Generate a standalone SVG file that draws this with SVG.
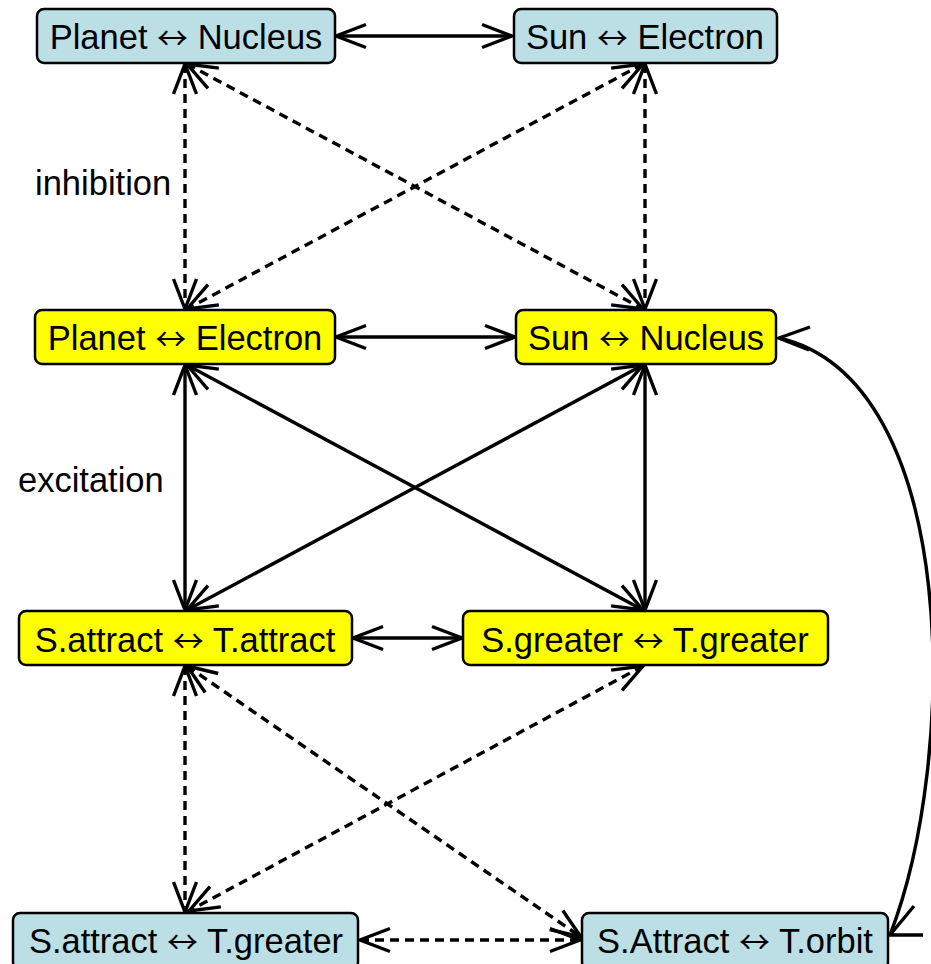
<svg xmlns="http://www.w3.org/2000/svg" width="931" height="964" viewBox="0 0 931 964">
  <style>
    .node rect { stroke: #000; stroke-width: 2.5; }
    .blue rect { fill: #bcdfe6; }
    .yellow rect { fill: #ffff00; }
    text { font-family: "Liberation Sans", Arial, sans-serif; font-size: 34.5px; fill: #000; }
    .node text { text-anchor: middle; }
    .sym { font-family: "Noto Sans CJK SC", "DejaVu Sans", sans-serif; font-size: 31px; }
    .edge { fill: none; stroke: #000; stroke-width: 3.4; marker-start: url(#arrow); marker-end: url(#arrow); }
    .dashed { stroke-dasharray: 9 6; }
    .head { fill: none; stroke: #000; stroke-width: 3.4; stroke-linejoin: miter; }
  </style>
  <defs>
    <!-- open V arrowhead, tip at the path end -->
    <marker id="arrow" markerUnits="userSpaceOnUse" viewBox="-34 -15 38 30" markerWidth="38" markerHeight="30" refX="0" refY="0" orient="auto-start-reverse" overflow="visible">
      <path d="M -30 -11.5 L 0 0 L -30 11.5" fill="none" stroke="#000" stroke-width="3.4" stroke-dasharray="none"/>
    </marker>
  </defs>

  <g id="connectors">
    <!-- top row -->
    <line class="edge" x1="336" y1="36" x2="512" y2="36"/>
    <line class="edge dashed" x1="185" y1="64" x2="185" y2="309"/>
    <line class="edge dashed" x1="645" y1="64" x2="645" y2="309"/>
    <line class="edge dashed" x1="187" y1="64" x2="643" y2="309"/>
    <line class="edge dashed" x1="643" y1="64" x2="187" y2="309"/>
    <!-- second row -->
    <line class="edge" x1="336" y1="337" x2="515" y2="337"/>
    <line class="edge" x1="185" y1="365" x2="185" y2="610"/>
    <line class="edge" x1="645" y1="365" x2="645" y2="610"/>
    <line class="edge" x1="187" y1="365" x2="643" y2="610"/>
    <line class="edge" x1="643" y1="365" x2="187" y2="610"/>
    <!-- third row -->
    <line class="edge" x1="353" y1="638" x2="462" y2="638"/>
    <line class="edge dashed" x1="185" y1="666" x2="185" y2="912"/>
    <line class="edge dashed" x1="187" y1="666" x2="581" y2="937"/>
    <line class="edge dashed" x1="643" y1="666" x2="189" y2="911"/>
    <!-- bottom row -->
    <line class="edge dashed" x1="360" y1="940" x2="580" y2="940"/>
    <!-- long curved link on the right -->
    <path class="head" d="M 779 338 C 962 380, 958 760, 890 935"/>
    <path class="head" d="M 810 327 L 779 338 L 809 350"/>
    <path class="head" d="M 923 935 L 890 935 L 914 906"/>
  </g>

  <g id="label-inhibition"><text x="35" y="195">inhibition</text></g>
  <g id="label-excitation"><text x="18" y="492">excitation</text></g>

  <g id="planet-nucleus" class="node blue">
    <rect x="37" y="9" width="298" height="54" rx="7"/>
    <text x="186" y="49">Planet <tspan class="sym">↔</tspan> Nucleus</text>
  </g>
  <g id="sun-electron" class="node blue">
    <rect x="514" y="9" width="263" height="54" rx="7"/>
    <text x="645" y="49">Sun <tspan class="sym">↔</tspan> Electron</text>
  </g>
  <g id="planet-electron" class="node yellow">
    <rect x="35" y="310" width="300" height="54" rx="7"/>
    <text x="185" y="350">Planet <tspan class="sym">↔</tspan> Electron</text>
  </g>
  <g id="sun-nucleus" class="node yellow">
    <rect x="516" y="310" width="260" height="54" rx="7"/>
    <text x="646" y="350">Sun <tspan class="sym">↔</tspan> Nucleus</text>
  </g>
  <g id="sattract-tattract" class="node yellow">
    <rect x="19" y="611" width="333" height="54" rx="7"/>
    <text x="185" y="652">S.attract <tspan class="sym">↔</tspan> T.attract</text>
  </g>
  <g id="sgreater-tgreater" class="node yellow">
    <rect x="463" y="611" width="365" height="54" rx="7"/>
    <text x="645" y="652">S.greater <tspan class="sym">↔</tspan> T.greater</text>
  </g>
  <g id="sattract-tgreater" class="node blue">
    <rect x="13" y="913" width="345" height="56" rx="7"/>
    <text x="186" y="953">S.attract <tspan class="sym">↔</tspan> T.greater</text>
  </g>
  <g id="sattract-torbit" class="node blue">
    <rect x="582" y="913" width="306" height="56" rx="7"/>
    <text x="735" y="953">S.Attract <tspan class="sym">↔</tspan> T.orbit</text>
  </g>
</svg>
